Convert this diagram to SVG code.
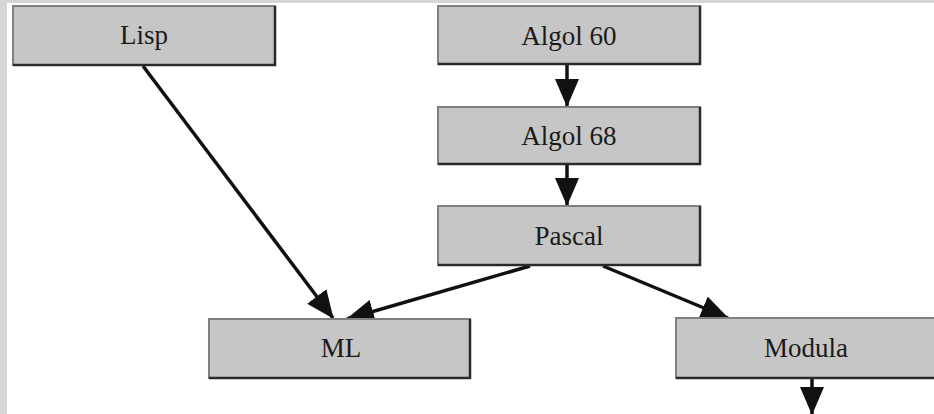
<svg xmlns="http://www.w3.org/2000/svg" width="934" height="414" viewBox="0 0 934 414">
<style>
.box{fill:#c6c6c6;stroke:#808080;stroke-width:2}
.sh{fill:none;stroke:#2a2a2a;stroke-width:2.5}
.lbl{font-family:"Liberation Serif","Times New Roman",serif;font-size:27px;fill:#1a1a1a;text-anchor:middle}
.edge{stroke:#111;stroke-width:3.5;fill:none;marker-end:url(#ah)}
</style>
<defs>
<marker id="ah" markerUnits="userSpaceOnUse" markerWidth="28" markerHeight="24" refX="27" refY="12" orient="auto" viewBox="0 0 28 24">
<path d="M0,0 L28,12 L0,24 z" fill="#111"/>
</marker>
</defs>
<rect x="0" y="0" width="934" height="414" fill="#fff"/>
<rect x="0" y="0" width="934" height="3" fill="#d6d6d6"/>
<rect x="0" y="0" width="7" height="414" fill="#d6d6d6"/>
<g id="edges">
<line class="edge" x1="143" y1="66" x2="333" y2="318"/>
<line class="edge" x1="567" y1="65" x2="567" y2="106"/>
<line class="edge" x1="567" y1="165" x2="567" y2="205"/>
<line class="edge" x1="530" y1="266" x2="347" y2="319"/>
<line class="edge" x1="603" y1="266" x2="728" y2="318"/>
<line class="edge" x1="812" y1="379" x2="812" y2="414"/>
</g>
<g id="lisp">
<rect class="box" x="13" y="6" width="262" height="59"/>
<polyline class="sh" points="13,65 275,65 275,6"/>
<text class="lbl" x="144" y="44">Lisp</text>
</g>
<g id="algol60">
<rect class="box" x="438" y="6" width="262" height="58"/>
<polyline class="sh" points="438,64 700,64 700,6"/>
<text class="lbl" x="569" y="45">Algol 60</text>
</g>
<g id="algol68">
<rect class="box" x="438" y="107" width="262" height="57"/>
<polyline class="sh" points="438,164 700,164 700,107"/>
<text class="lbl" x="569" y="145">Algol 68</text>
</g>
<g id="pascal">
<rect class="box" x="438" y="206" width="262" height="59"/>
<polyline class="sh" points="438,265 700,265 700,206"/>
<text class="lbl" x="569" y="245">Pascal</text>
</g>
<g id="ml">
<rect class="box" x="209" y="319" width="261" height="59"/>
<polyline class="sh" points="209,378 470,378 470,319"/>
<text class="lbl" x="341" y="357">ML</text>
</g>
<g id="modula">
<rect class="box" x="676" y="318" width="264" height="60"/>
<polyline class="sh" points="676,378 940,378"/>
<text class="lbl" x="806" y="357">Modula</text>
</g>
</svg>
